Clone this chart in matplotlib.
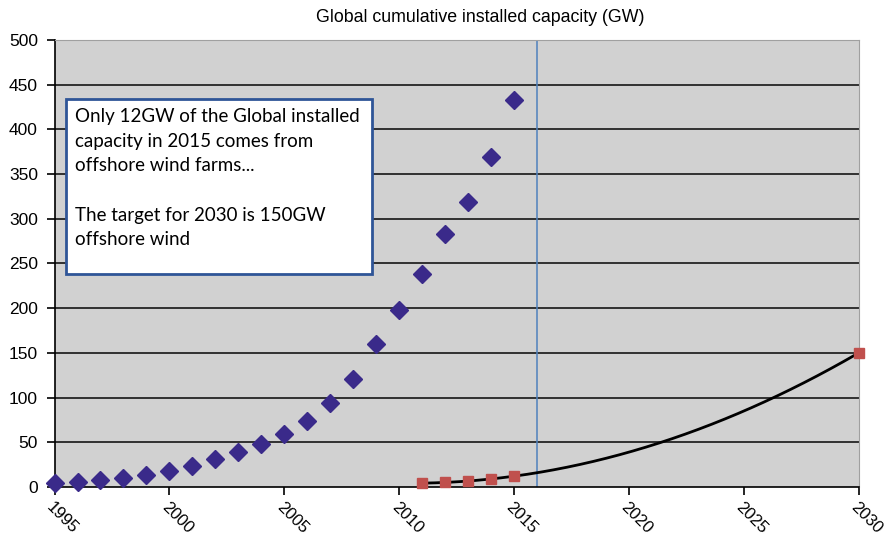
import matplotlib
matplotlib.use('Agg')
import matplotlib.pyplot as plt
import numpy as np
from matplotlib.patches import Rectangle

# global cumulative installed capacity (GW)
years = np.arange(1995, 2016)
capacity = [4.8, 6.1, 7.6, 10.2, 13.6, 17.4, 23.9, 31.1, 39.4, 47.6, 59.1,
            74.0, 94.0, 121.0, 159.6, 198.0, 238.5, 283.0, 318.5, 369.5, 432.5]

# offshore wind, plus the 2030 target
off_years = np.array([2011, 2012, 2013, 2014, 2015, 2030])
offshore = np.array([4.0, 5.4, 7.0, 8.8, 12.0, 150.0])

y_ticks = np.arange(0, 501, 50)
x_ticks = np.arange(1995, 2031, 5)
marker_year = 2016

note = ("Only 12GW of the Global installed\n"
        "capacity in 2015 comes from\n"
        "offshore wind farms...\n"
        "\n"
        "The target for 2030 is 150GW\n"
        "offshore wind")

plt.rcParams['font.family'] = ['Liberation Sans', 'DejaVu Sans']

fig = plt.figure(figsize=(8.91, 5.36), dpi=100)
ax = fig.add_axes([0.0612, 0.0914, 0.9025, 0.834])
ax.set_facecolor('#d1d1d1')

ax.set_xlim(1995, 2030)
ax.set_ylim(0, 500)
ax.set_yticks(y_ticks)
ax.set_xticks(x_ticks)
for y in y_ticks[1:-1]:
    ax.axhline(y, color='#303030', lw=1.4, zorder=1)

# polynomial trendline (order 2) through the offshore points
coef = np.polyfit(off_years, offshore, 2)
tx = np.linspace(2011, 2030, 200)
ax.plot(tx, np.polyval(coef, tx), color='black', lw=2, zorder=3)

ax.axvline(marker_year, color='#4f81bd', lw=1.1, zorder=2)

ax.plot(years, capacity, 'D', color='#3a2a8a', ms=9, mec='#3a2a8a', zorder=4,
        clip_on=False)
ax.plot(off_years, offshore, 's', color='#c0504d', ms=7, zorder=4, clip_on=False)

for s in ['top', 'right']:
    ax.spines[s].set_color('#a0a0a0')
for s in ['left', 'bottom']:
    ax.spines[s].set_color('black')
    ax.spines[s].set_linewidth(1.2)

ax.tick_params(axis='both', direction='out', length=6, width=1.2, labelsize=12.5)
ax.tick_params(axis='y', pad=6)
ax.tick_params(axis='x', labelsize=12, pad=3)
ax.set_xticklabels([str(x) for x in x_ticks], rotation=-45, ha='left', va='top',
                   rotation_mode='anchor')

ax.add_patch(Rectangle((0.014, 0.477), 0.381, 0.392, transform=ax.transAxes,
                       facecolor='white', edgecolor='#2f5597', lw=2, zorder=5))
ax.text(0.026, 0.848, note, transform=ax.transAxes, fontsize=13.5, family='Lato',
        va='top', ha='left', linespacing=1.55, zorder=6)

fig.text(480 / 891, 1 - 18 / 536, 'Global cumulative installed capacity (GW)',
         ha='center', va='center', fontsize=12.8)

fig.savefig('out.png', dpi=100)
